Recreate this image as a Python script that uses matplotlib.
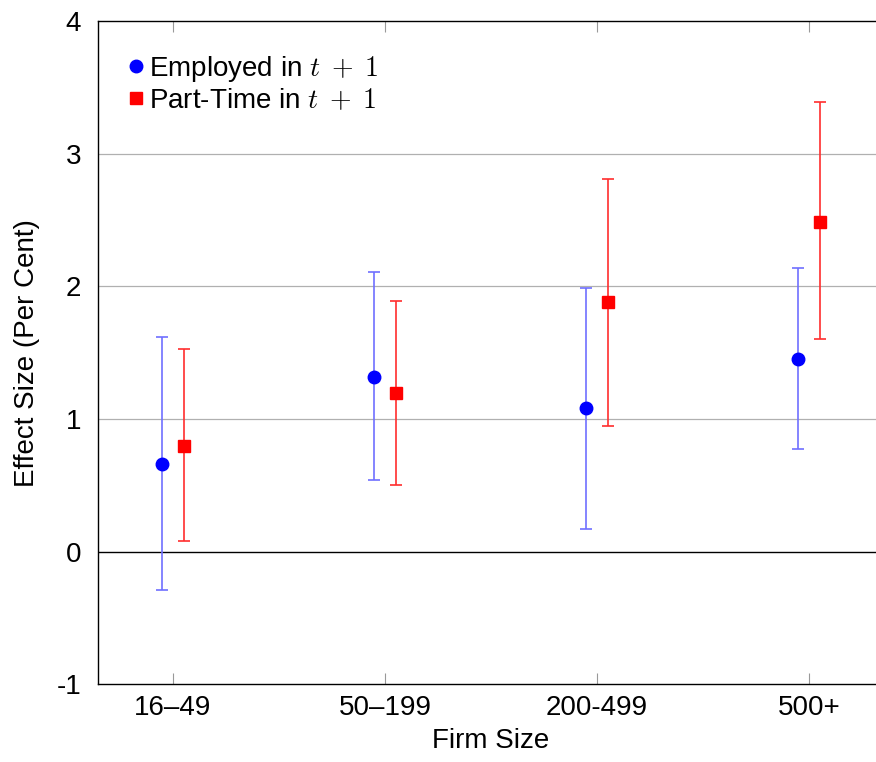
import matplotlib
matplotlib.use("Agg")
import matplotlib.pyplot as plt
import numpy as np

# Data
sizes = ["16–49", "50–199", "200-499", "500+"]
emp_val = [0.66, 1.32, 1.08, 1.45]
emp_hi = [1.62, 2.11, 1.99, 2.14]
emp_lo = [-0.29, 0.54, 0.17, 0.77]
pt_val = [0.80, 1.20, 1.88, 2.49]
pt_hi = [1.53, 1.89, 2.81, 3.39]
pt_lo = [0.08, 0.50, 0.95, 1.60]
yticks = [-1, 0, 1, 2, 3, 4]

plt.rcParams['font.family'] = ['Liberation Sans', 'DejaVu Sans']
plt.rcParams['mathtext.fontset'] = 'cm'

fig = plt.figure(figsize=(8.76, 7.62), dpi=100)
ax = fig.add_axes([98 / 876, 1 - 684 / 762, (884 - 98) / 876, (684 - 21.5) / 762])

x = np.arange(len(sizes))
off = 0.05

ev = np.array(emp_val)
pv = np.array(pt_val)
e_err = [ev - np.array(emp_lo), np.array(emp_hi) - ev]
p_err = [pv - np.array(pt_lo), np.array(pt_hi) - pv]

# grid + zero line
for g in [1, 2, 3]:
    ax.axhline(g, color="#b0b0b0", lw=0.9, zorder=0)
ax.axhline(0, color="black", lw=1.0, zorder=1)

ax.errorbar(x - off, ev, yerr=e_err, fmt="none", ecolor="#6f6fff", elinewidth=1.2,
            capsize=4, capthick=1.2, zorder=2)
ax.errorbar(x + off, pv, yerr=p_err, fmt="none", ecolor="#ff2e2e", elinewidth=1.2,
            capsize=4, capthick=1.2, zorder=2)
ax.plot(x - off, ev, "o", color="blue", ms=9, ls="none", zorder=3,
        label=r"Employed in $t\;+\;1$")
ax.plot(x + off, pv, "s", color="red", ms=8, ls="none", zorder=3,
        label=r"Part-Time in $t\;+\;1$")

ax.set_xlim(-0.354, 3.354)
ax.set_ylim(-1, 4)
ax.set_xticks(x)
ax.set_xticklabels(sizes, fontsize=20)
ax.set_yticks(yticks)
ax.set_yticklabels([str(t) for t in yticks], fontsize=20)
ax.tick_params(axis="x", direction="in", length=8, color="#999999", top=True, pad=8)
ax.tick_params(axis="y", length=0, pad=12)
for s in ax.spines.values():
    s.set_linewidth(1.0)

ax.set_xlabel("Firm Size", fontsize=20, labelpad=5)
ax.set_ylabel("Effect Size (Per Cent)", fontsize=20, labelpad=12)

ax.legend(loc="upper left", frameon=False, fontsize=20, handlelength=0.6,
          handletextpad=0.15, borderaxespad=0.4, labelspacing=0.15,
          bbox_to_anchor=(0.01, 0.985))

fig.savefig("out.png", dpi=100)
